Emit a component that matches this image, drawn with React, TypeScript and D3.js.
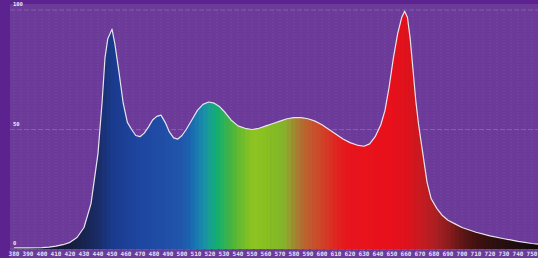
import React from "react";
import * as d3 from "d3";

// spectrum samples (nm) and relative intensity (%)
const wavelengths = [
  380, 390, 400, 405, 410, 415, 420, 425, 430, 435, 440, 443, 445, 447, 450, 452, 455, 458, 461, 464,
  467, 470, 473, 476, 479, 482, 485, 488, 491, 494, 497, 500, 503, 507, 511, 515, 519, 523, 527, 531,
  535, 540, 545, 550, 555, 560, 565, 570, 575, 580, 585, 590, 595, 600, 605, 610, 615, 620, 625, 630,
  634, 638, 642, 645, 648, 651, 654, 657, 659, 661, 663, 665, 667, 669, 671, 673, 675, 678, 682, 686,
  690, 695, 700, 710, 720, 730, 740, 750, 755,
];
const intensity = [
  0.5, 0.5, 0.6, 0.8, 1.2, 1.8, 2.8, 4.8, 9, 19, 40, 62, 80, 88, 92, 86, 74, 61, 53, 50,
  47.5, 47, 48.5, 51, 54, 55.5, 56, 53, 49, 46.5, 46, 47.5, 50, 54, 58, 60.5, 61.5, 61, 59.5, 57,
  54, 51.5, 50.5, 50, 50.5, 51.5, 52.5, 53.5, 54.5, 55, 55, 54.5, 53.5, 52, 50, 48, 46, 44.5, 43.5, 43,
  44, 47, 52, 58, 68, 80, 90, 97, 99.5, 97, 88, 75, 62, 52, 44, 36, 28, 21, 17, 14,
  12, 10.5, 9, 7, 5.5, 4.3, 3.2, 2.3, 2,
];
const xTicks = d3.range(380, 751, 10);
const yTicks = [0, 50, 100];

// colour stops for the spectrum fill
const colorNm = [380, 420, 440, 450, 470, 490, 500, 505, 510, 515, 520, 525, 530, 535, 540, 550, 560, 570, 575, 580, 585, 590, 600, 610, 620, 650, 660, 670, 680, 690, 700, 710, 720, 740, 755];
const colorHex = ["#0c1226", "#141d3c", "#1a2c66", "#1a3a8c", "#1e46a0", "#2050a8", "#2056aa", "#1c62b0", "#1878b0", "#188ea8", "#18a090", "#12ae70", "#2cb25c", "#44b440", "#62b830", "#8ec422", "#88c020", "#82b828", "#90a830", "#a08a30", "#b07030", "#c05e2e", "#d04228", "#e02420", "#e8141c", "#e8101a", "#de121c", "#c81a20", "#b01e22", "#8c1c1e", "#601616", "#421010", "#301010", "#1c0e0e", "#120a0a"];

export default function App() {
  const W = 538, H = 258;
  const x = d3.scaleLinear().domain([380, 750]).range([14, 532]);
  const y = d3.scaleLinear().domain([0, 100]).range([249, 10]);
  const color = d3.scaleLinear<string>().domain(colorNm).range(colorHex).interpolate(d3.interpolateRgb).clamp(true);

  const pts = wavelengths.map((w, i) => [w, intensity[i]] as [number, number]);
  const area = d3.area<[number, number]>().x((d) => x(d[0])).y0(y(0)).y1((d) => y(d[1]))(pts) || "";
  const line = d3.line<[number, number]>().x((d) => x(d[0])).y((d) => y(d[1]))(pts) || "";

  const bands = d3.range(377, 756, 3);
  const grid = d3.range(380, 756, 5);

  return (
    <svg width={W} height={H} style={{ position: "absolute", left: 0, top: 0 }} fontFamily="DejaVu Sans Mono, monospace">
      <rect width={W} height={H} fill="#5c2290" />
      <rect x={10} y={4} width={W - 10} height={H - 4} fill="#6c3a98" />
      {grid.map((g) => (
        <line key={g} x1={x(g)} x2={x(g)} y1={10} y2={249} stroke="#8a62b2" strokeWidth={0.8} strokeDasharray="1 2" opacity={0.6} />
      ))}
      {yTicks.map((t) => (
        <line key={t} x1={10} x2={W} y1={y(t)} y2={y(t)} stroke="#8c66b4" strokeWidth={1} strokeDasharray="5 2" opacity={0.8} />
      ))}
      <defs>
        <clipPath id="spec">
          <path d={area} />
        </clipPath>
      </defs>
      <g clipPath="url(#spec)">
        {bands.map((b) => (
          <rect key={b} x={x(b)} y={0} width={x(b + 3) - x(b) + 0.6} height={H} fill={color(b + 1.5)} />
        ))}
      </g>
      <path d={line} fill="none" stroke="#e8e4ee" strokeWidth={1.2} strokeLinejoin="round" />
      {yTicks.map((t) => (
        <text key={t} x={13} y={y(t) - 4} fontSize={5.5} fontWeight="bold" fill="#efe8f6">
          {t}
        </text>
      ))}
      {xTicks.map((t) => (
        <text key={t} x={x(t)} y={256} fontSize={6} fontWeight="bold" fill="#e8def4" textAnchor="middle">
          {t}
        </text>
      ))}
    </svg>
  );
}
